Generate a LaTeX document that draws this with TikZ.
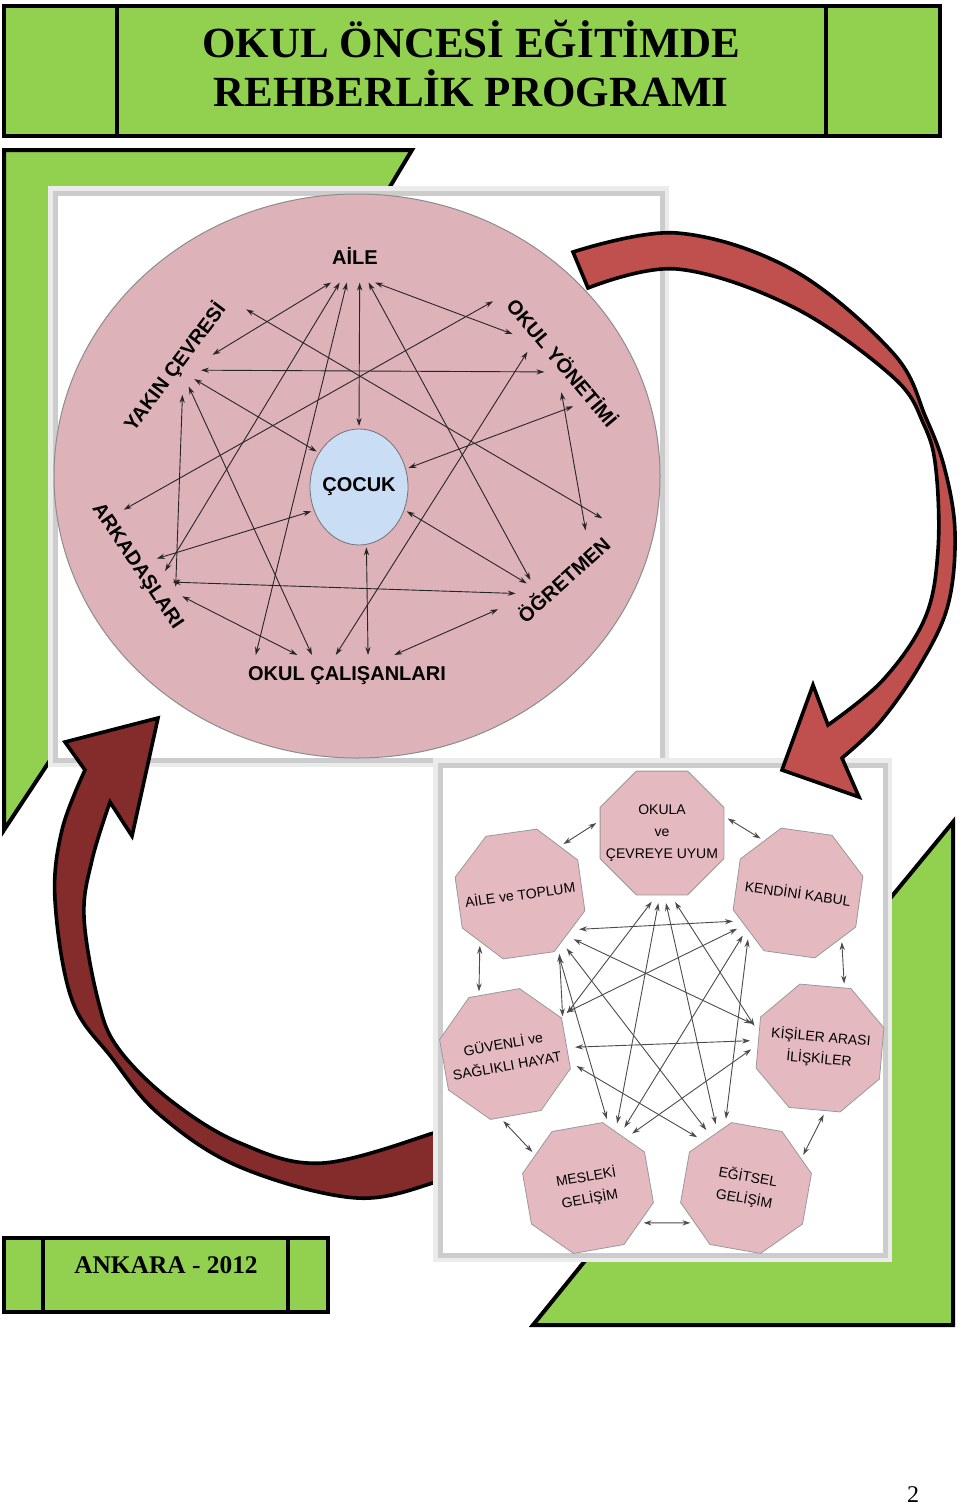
\documentclass[tikz,border=0pt]{standalone}
\usepackage{fontspec}
\setmainfont{Liberation Serif}
\setsansfont{Liberation Sans}
\usetikzlibrary{arrows.meta,shapes.geometric}
\definecolor{rehberGreen}{RGB}{146,208,80}
\definecolor{rehberPink}{RGB}{222,178,185}
\definecolor{rehberOctPink}{RGB}{228,186,192}
\definecolor{rehberBlue}{RGB}{201,221,244}
\definecolor{rehberRed}{RGB}{192,80,77}
\definecolor{rehberDarkRed}{RGB}{132,44,44}

\begin{document}
\begin{tikzpicture}[
  x=0.5pt, y=-0.5pt,
  banner/.style={fill=rehberGreen, draw=black, line width=2pt, line join=miter},
  photo/.style={fill=white, draw=black!20, line width=2.5pt, preaction={draw=black!8, line width=7pt}},
  ribbon/.style={draw=black, line width=1.8pt, line join=miter},
  titletext/.style={font=\bfseries\fontsize{21.5}{24}\selectfont, inner sep=0pt},
  lbl/.style={font=\sffamily\bfseries\fontsize{10}{12}\selectfont, inner sep=1pt, outer sep=5pt},
  child/.style={ellipse, draw=black!55, fill=rehberBlue, minimum width=49pt, minimum height=58pt,
    inner sep=-4pt, font=\sffamily\bfseries\fontsize{10}{12}\selectfont, outer sep=1.5pt},
  octa/.style={regular polygon, regular polygon sides=8, minimum size=67pt, inner sep=-12pt,
    fill=rehberOctPink, draw=black!40, align=center, font=\sffamily\fontsize{7}{11}\selectfont},
  link/.style={<->, >={Stealth[length=4pt,width=2.6pt]}, line width=0.45pt, draw=black!85},
  ringlink/.style={link, draw=black!70, shorten <=2pt, shorten >=2pt},
  starlink/.style={link, draw=black!70, shorten <=4pt, shorten >=4pt}
]
\useasboundingbox (0,0) rectangle (960,1505);

% title banner
\draw[banner] (4,6) rectangle (940,136);
\draw[line width=2pt] (117,6) -- (117,136) (826,6) -- (826,136);
\node[titletext, anchor=base] (titleA) at (471,57) {OKUL ÖNCESİ EĞİTİMDE};
\node[titletext, anchor=base] (titleB) at (471,106) {REHBERLİK PROGRAMI};

% green corner frames
\draw[banner] (4,150) -- (412,150) -- (364,230) -- (80,230) -- (80,715) -- (4,830) -- cycle;
\draw[banner] (953,822) -- (953,1325) -- (533,1325) -- (614,1225) -- (860,1225) -- (860,935) -- cycle;

% first picture: the child and its circle
\draw[photo] (55,193) rectangle (662,760);
\fill[rehberPink, draw=black!45, line width=0.5pt] (357,476) ellipse [x radius=151.5pt, y radius=141pt];

\node[lbl, outer sep=8pt] (aile) at (355,256) {AİLE};
\node[lbl, rotate=53] (yakin) at (175,367) {YAKIN ÇEVRESİ};
\node[lbl, rotate=-50] (yonetim) at (563,362) {OKUL YÖNETİMİ};
\node[lbl, rotate=-56] (arkadas) at (137,567) {ARKADAŞLARI};
\node[lbl, rotate=42] (ogretmen) at (563,579) {ÖĞRETMEN};
\node[lbl] (calisan) at (347,676) {OKUL ÇALIŞANLARI};
\node[child] (cocuk) at (359,487) {ÇOCUK};

\draw[link] (aile.-132) -- (yakin.-35);
\draw[link] (aile.-53) -- (yonetim.201);
\draw[link] (aile.-80) -- (cocuk.north);
\draw[link] (aile.-120) -- (arkadas.48);
\draw[link] (aile.-107) -- (calisan.167);
\draw[link] (aile.-63) -- (ogretmen.140);
\draw[link] (yakin.-60) -- (yonetim.-102);
\draw[link] (yakin.-14) -- (ogretmen.15);
\draw[link] (yakin.-85) -- (cocuk.140);
\draw[link] (yakin.-108) -- (calisan.149);
\draw[link] (yakin.-128) -- (arkadas.29);
\draw[link] (yonetim.189) -- (arkadas.159);
\draw[link] (yonetim.-27) -- (cocuk.21);
\draw[link] (yonetim.-43) -- (ogretmen.23);
\draw[link] (yonetim.-146) -- (calisan.118);
\draw[link] (ogretmen.145) -- (cocuk.-27);
\draw[link] (ogretmen.155) -- (arkadas.33);
\draw[link] (ogretmen.163) -- (calisan.24);
\draw[link] (arkadas.79) -- (cocuk.-153);
\draw[link] (arkadas.23) -- (calisan.157);
\draw[link] (cocuk.-83) -- (calisan.45);

% dark curved arrow, bottom left
\draw[ribbon, fill=rehberDarkRed] plot[smooth, tension=0.6] coordinates {(475,1170) (443,1180) (357,1198) (240,1167) (160,1115) (112,1058) (72,1000) (55,900) (62,830) (85,770)}
  -- (65,742) -- (158,718) -- (132,836)
  -- plot[smooth, tension=0.6] coordinates {(110,802) (92,860) (84,917) (98,1000) (118,1048) (170,1100) (240,1143) (323,1163) (443,1130) (475,1118)} -- cycle;

% second picture: the guidance areas
\draw[photo] (440,765) rectangle (885,1255);
\node[octa] (okulauyum) at (662,833) {OKULA\\ve\\ÇEVREYE UYUM};
\node[octa, rotate=8] (ailetoplum) at (520,894) {AİLE ve TOPLUM};
\node[octa, rotate=-8] (kendini) at (798,893) {KENDİNİ KABUL};
\node[octa, rotate=10] (guvenli) at (505,1054) {GÜVENLİ ve\\SAĞLIKLI HAYAT};
\node[octa, rotate=-5] (kisiler) at (820,1048) {KİŞİLER ARASI\\İLİŞKİLER};
\node[octa, rotate=10] (mesleki) at (588,1188) {MESLEKİ\\GELİŞİM};
\node[octa, rotate=-10] (egitsel) at (746,1188) {EĞİTSEL\\GELİŞİM};

\draw[ringlink] (ailetoplum.42) -- (okulauyum.169);
\draw[ringlink] (okulauyum.15) -- (kendini.131);
\draw[ringlink] (kendini.-38) -- (kisiler.73);
\draw[ringlink] (kisiler.-80) -- (egitsel.38);
\draw[ringlink] (egitsel.-136) -- (mesleki.-44);
\draw[ringlink] (mesleki.138) -- (guvenli.-104);
\draw[ringlink] (guvenli.104) -- (ailetoplum.-138);

\draw[starlink] (okulauyum.-95) -- (guvenli.21);
\draw[starlink] (okulauyum.-92) -- (mesleki.54);
\draw[starlink] (okulauyum.-88) -- (egitsel.127);
\draw[starlink] (okulauyum.-82) -- (kisiler.171);
\draw[starlink] (ailetoplum.-43) -- (kendini.-146);
\draw[starlink] (ailetoplum.-50) -- (kisiler.166);
\draw[starlink] (ailetoplum.-57) -- (egitsel.134);
\draw[starlink] (ailetoplum.-64) -- (mesleki.61);
\draw[starlink] (ailetoplum.-61) -- (guvenli.17);
\draw[starlink] (kendini.-141) -- (guvenli.25);
\draw[starlink] (kendini.-137) -- (mesleki.49);
\draw[starlink] (kendini.-134) -- (egitsel.119);
\draw[starlink] (kisiler.178) -- (guvenli.-4);
\draw[starlink] (kisiler.182) -- (mesleki.43);
\draw[starlink] (egitsel.142) -- (guvenli.-17);

% red curved arrow, top right
\draw[ribbon, fill=rehberRed] plot[smooth, tension=0.6] coordinates {(573,252) (677,233) (793,270) (893,353) (926,418) (945,470) (955,533) (948,605) (920,665) (880,722) (842,758)}
  -- (859,797) -- (782,770) -- (813,685)
  -- plot[smooth, tension=0.6] coordinates {(828,725) (883,680) (925,618) (938,550) (936,470) (924,425) (893,377) (793,307) (677,269) (588,288)} -- cycle;

% place and page
\draw[banner] (4,1238) rectangle (328,1312);
\draw[line width=2pt] (43,1238) -- (43,1312) (288,1238) -- (288,1312);
\node[anchor=base, font=\bfseries\fontsize{12.7}{15}\selectfont] (place) at (166,1273) {ANKARA - 2012};
\node[anchor=base, font=\fontsize{12}{14}\selectfont] (pagenum) at (913,1502) {2};
\end{tikzpicture}
\end{document}
